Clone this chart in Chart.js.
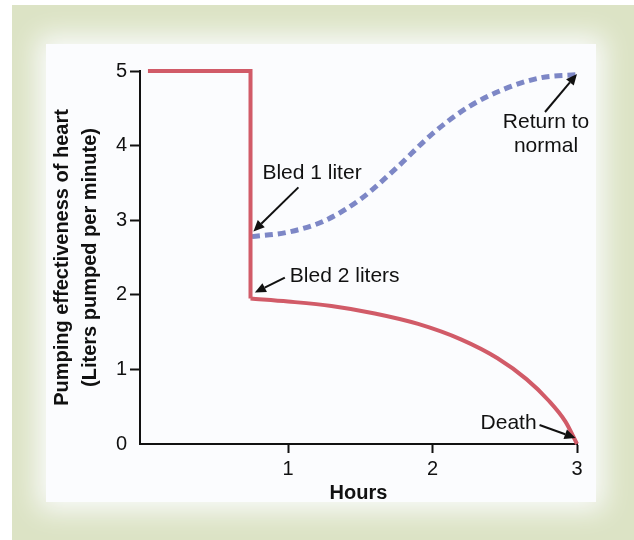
<!DOCTYPE html>
<html>
<head>
<meta charset="utf-8">
<script src="https://cdn.jsdelivr.net/npm/chart.js@4.4.1/dist/chart.umd.min.js"></script>
<style>
  html, body { margin: 0; padding: 0; background: #ffffff; }
  #wrap { position: relative; width: 634px; height: 540px; overflow: hidden; }
  #frame { position: absolute; left: 12px; top: 5px; right: 0; bottom: 0; background: #dce3c5; }
  #panel {
    position: absolute; left: 46px; top: 44px; width: 550px; height: 458px;
    background: #fbfcfe; box-shadow: 0 0 26px 8px #fbfcfe;
  }
  canvas { position: absolute; left: 0; top: 0; }
</style>
</head>
<body>
<div id="wrap">
  <div id="frame"></div>
  <div id="panel"></div>
  <canvas id="chart" width="634" height="540"></canvas>
</div>
<script>
// values (hours, litres pumped per minute)
var stepHours = [0.03, 0.74, 0.74];
var stepFlow = [5, 5, 1.95];

var bled2Hours = [0.74, 1.0, 1.3, 1.6, 1.9, 2.2, 2.45, 2.65, 2.8, 2.92, 3.0];
var bled2Flow = [1.95, 1.91, 1.85, 1.75, 1.61, 1.40, 1.15, 0.87, 0.59, 0.30, 0];

var bled1Hours = [0.75, 1.0, 1.25, 1.5, 1.75, 2.0, 2.25, 2.5, 2.75, 3.0];
var bled1Flow = [2.78, 2.84, 2.99, 3.28, 3.70, 4.16, 4.52, 4.76, 4.91, 4.95];

var xTicks = [1, 2, 3];
var yTicks = [0, 1, 2, 3, 4, 5];

var notes = [
  { hour: 0.76, flow: 2.85, tail: [45, -44], lines: ['Bled 1 liter'], at: [9, -58], align: 'left' },
  { hour: 0.77, flow: 2.03, tail: [30, -15], lines: ['Bled 2 liters'], at: [35, -16], align: 'left' },
  { hour: 3.0, flow: 4.96, tail: [-32, 38], lines: ['Return to', 'normal'], at: [-31, 48], align: 'center' },
  { hour: 2.99, flow: 0.08, tail: [-36, -13], lines: ['Death'], at: [-95, -15], align: 'left' }
];

function pairs(xs, ys) {
  return xs.map(function (x, i) { return { x: x, y: ys[i] }; });
}

Chart.defaults.font.family = '"Liberation Sans", Arial, sans-serif';
Chart.defaults.color = '#111111';

var notePlugin = {
  id: 'notes',
  afterDatasetsDraw: function (chart) {
    var ctx = chart.ctx;
    var xs = chart.scales.x;
    var ys = chart.scales.y;
    ctx.save();
    ctx.fillStyle = '#111111';
    ctx.strokeStyle = '#111111';
    ctx.font = '21px "Liberation Sans", Arial, sans-serif';
    ctx.textBaseline = 'middle';
    notes.forEach(function (n) {
      var tx = xs.getPixelForValue(n.hour);
      var ty = ys.getPixelForValue(n.flow);
      var sx = tx + n.tail[0];
      var sy = ty + n.tail[1];
      var ang = Math.atan2(ty - sy, tx - sx);
      var len = 11;
      var bx = tx - Math.cos(ang) * len;
      var by = ty - Math.sin(ang) * len;
      ctx.lineWidth = 2;
      ctx.beginPath();
      ctx.moveTo(sx, sy);
      ctx.lineTo(bx, by);
      ctx.stroke();
      ctx.beginPath();
      ctx.moveTo(tx, ty);
      ctx.lineTo(bx + Math.sin(ang) * 5, by - Math.cos(ang) * 5);
      ctx.lineTo(bx - Math.sin(ang) * 5, by + Math.cos(ang) * 5);
      ctx.closePath();
      ctx.fill();
      ctx.textAlign = n.align;
      n.lines.forEach(function (line, i) {
        ctx.fillText(line, tx + n.at[0], ty + n.at[1] + i * 24);
      });
    });
    ctx.restore();
  }
};

new Chart(document.getElementById('chart'), {
  type: 'line',
  data: {
    datasets: [
      {
        data: pairs(stepHours, stepFlow),
        borderColor: '#d15b68',
        borderWidth: 4,
        tension: 0,
        borderJoinStyle: 'miter',
        pointRadius: 0,
        clip: false
      },
      {
        data: pairs(bled2Hours, bled2Flow),
        borderColor: '#d15b68',
        borderWidth: 4,
        cubicInterpolationMode: 'monotone',
        pointRadius: 0,
        clip: false
      },
      {
        data: pairs(bled1Hours, bled1Flow),
        borderColor: '#7d87c6',
        borderWidth: 5,
        borderDash: [8, 5],
        cubicInterpolationMode: 'monotone',
        pointRadius: 0,
        clip: false
      }
    ]
  },
  options: {
    responsive: false,
    animation: false,
    events: [],
    layout: { padding: { left: 0, top: 71, right: 57, bottom: 0 } },
    plugins: {
      legend: { display: false },
      tooltip: { enabled: false }
    },
    scales: {
      x: {
        type: 'linear',
        min: -0.025,
        max: 3,
        afterFit: function (scale) { scale.height = 96; },
        afterBuildTicks: function (scale) {
          scale.ticks = xTicks.map(function (v) { return { value: v }; });
        },
        grid: { drawOnChartArea: false, drawTicks: true, tickLength: 9, tickWidth: 2, tickColor: '#111111' },
        border: { display: true, color: '#111111', width: 2 },
        ticks: { color: '#111111', font: { size: 20 }, padding: 4, maxRotation: 0 },
        title: {
          display: true,
          text: 'Hours',
          color: '#111111',
          font: { size: 20, weight: 'bold' },
          padding: { top: 0, bottom: 35 }
        }
      },
      y: {
        min: 0,
        max: 5,
        afterFit: function (scale) { scale.width = 140; },
        afterBuildTicks: function (scale) {
          scale.ticks = yTicks.map(function (v) { return { value: v }; });
        },
        grid: {
          drawOnChartArea: false,
          drawTicks: true,
          tickLength: 10,
          tickWidth: 2,
          tickColor: function (c) { return c.tick && c.tick.value === 0 ? 'rgba(0,0,0,0)' : '#111111'; }
        },
        border: { display: true, color: '#111111', width: 2 },
        ticks: { color: '#111111', font: { size: 20 }, padding: 3 },
        title: {
          display: true,
          text: ['Pumping effectiveness of heart', '(Liters pumped per minute)'],
          color: '#111111',
          font: { size: 20, weight: 'bold', lineHeight: 1.4 },
          padding: { top: 48, bottom: 0 }
        }
      }
    }
  },
  plugins: [notePlugin]
});
</script>
</body>
</html>
